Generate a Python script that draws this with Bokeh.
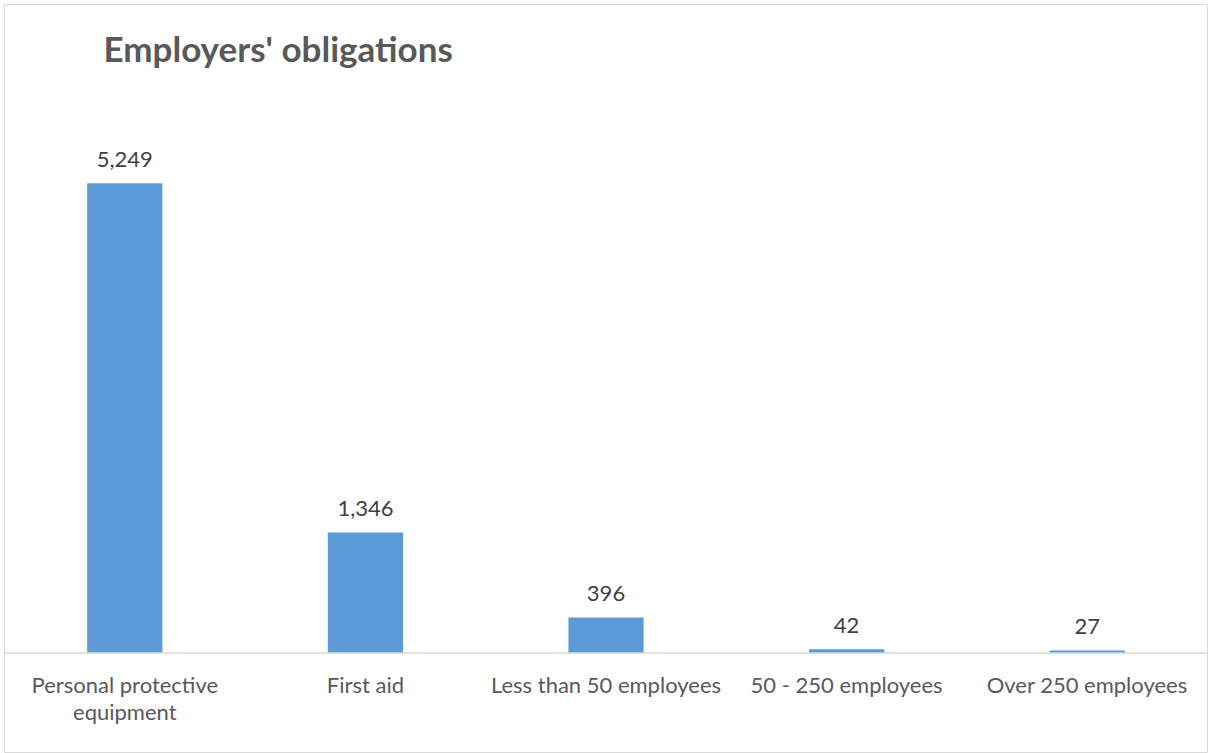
from bokeh.plotting import figure
from bokeh.models import ColumnDataSource, Range1d, FactorRange, Span, Label
from bokeh.core.properties import value
from bokeh.embed import file_html
from bokeh.resources import INLINE

categories = ["Personal protective equipment", "First aid", "Less than 50 employees",
              "50 - 250 employees", "Over 250 employees"]
category_labels = ["Personal protective\nequipment", "First aid", "Less than 50 employees",
                   "50 - 250 employees", "Over 250 employees"]
counts = [5249, 1346, 396, 42, 27]
count_labels = ["{:,}".format(v) for v in counts]
title_text = "Employers' obligations"

src = ColumnDataSource(dict(cat=categories, lab=category_labels, val=counts, vlab=count_labels,
                            zero=[0] * len(counts)))

p = figure(width=1208, height=753, x_range=FactorRange(*categories, range_padding=0),
           y_range=Range1d(-1123, 7246), output_backend="svg", toolbar_location=None,
           min_border_left=4, min_border_top=4, min_border_right=1, min_border_bottom=0)
p.axis.visible = False
p.grid.visible = False
p.outline_line_color = "#D9D9D9"
p.outline_line_width = 1
p.background_fill_color = "white"
p.border_fill_color = "white"

p.vbar(x="cat", top="val", bottom=0, width=0.3125, source=src, fill_color="#5B9BD5",
       line_color=None)
p.add_layout(Span(location=0, dimension="width", line_color="#D9D9D9", line_width=1.5))

p.text(x="cat", y="val", text="vlab", source=src, text_align="center",
       text_baseline="alphabetic", y_offset=-24, text_font=value("Lato"),
       text_font_size="22px", text_color="#404040")
p.text(x="cat", y="zero", text="lab", source=src, text_align="center",
       text_baseline="top", y_offset=18, text_font=value("Lato"),
       text_font_size="22px", text_color="#595959", text_line_height=1.0)

p.add_layout(Label(x=99, y=706, x_units="screen", y_units="screen", text=title_text,
                   text_font="Lato", text_font_style="bold", text_font_size="35px",
                   text_color="#595959", text_baseline="alphabetic"))

open("out.html", "w").write(file_html(p, INLINE))
